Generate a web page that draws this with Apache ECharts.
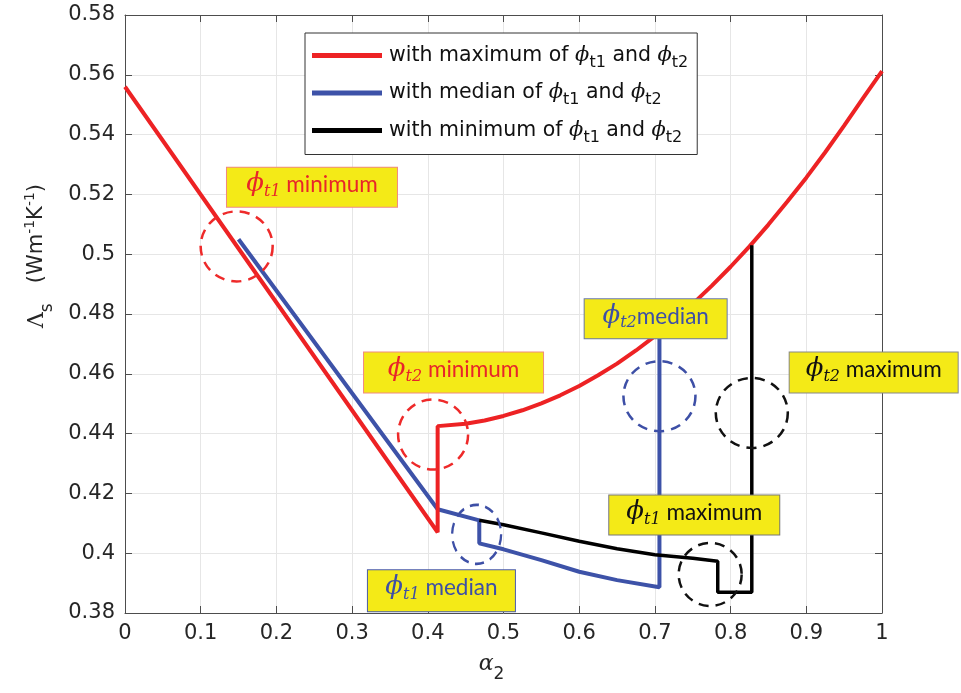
<!DOCTYPE html>
<html>
<head>
<meta charset="utf-8">
<script src="https://cdn.jsdelivr.net/npm/echarts@6/dist/echarts.min.js"></script>
<style>html,body{margin:0;padding:0;background:#fff;}#c{width:961px;height:693px;}</style>
</head>
<body>
<div id="c"></div>
<script>
// ---- data ----
const seriesNames = ['with maximum of ϕt1 and ϕt2', 'with median of ϕt1 and ϕt2', 'with minimum of ϕt1 and ϕt2'];
const redX = [0, 0.413, 0.413, 0.45, 0.475, 0.5, 0.525, 0.55, 0.575, 0.6, 0.625, 0.65, 0.675, 0.7, 0.725, 0.75, 0.775, 0.8, 0.825, 0.85, 0.875, 0.9, 0.925, 0.95, 0.975, 1.0];
const redY = [0.556, 0.407, 0.4425, 0.4433, 0.4444, 0.4459, 0.4478, 0.4501, 0.4528, 0.4559, 0.4595, 0.4634, 0.4678, 0.4726, 0.4777, 0.4834, 0.4894, 0.4958, 0.5026, 0.5099, 0.5176, 0.5256, 0.5341, 0.5430, 0.5522, 0.5612];
const blueX = [0.15, 0.413, 0.468, 0.468, 0.5, 0.55, 0.6, 0.65, 0.706, 0.706];
const blueY = [0.505, 0.4147, 0.411, 0.4033, 0.4013, 0.3977, 0.3938, 0.3910, 0.3886, 0.4735];
const blackX = [0.468, 0.5, 0.55, 0.6, 0.65, 0.7, 0.75, 0.783, 0.783, 0.828, 0.828];
const blackY = [0.411, 0.4095, 0.4068, 0.4040, 0.4015, 0.3995, 0.3983, 0.3973, 0.3869, 0.3869, 0.503];
const xTicks = [0, 0.1, 0.2, 0.3, 0.4, 0.5, 0.6, 0.7, 0.8, 0.9, 1];
const yTicks = [0.38, 0.4, 0.42, 0.44, 0.46, 0.48, 0.5, 0.52, 0.54, 0.56, 0.58];
// dashed circles: centre x, centre y, colour
const circleX = [0.1475, 0.407, 0.4645, 0.706, 0.828, 0.773];
const circleY = [0.5026, 0.4397, 0.4063, 0.4525, 0.4469, 0.3929];
const circleColor = ['#ee2a2a', '#ee2a2a', '#3d4fa6', '#3d4fa6', '#111', '#111'];
// annotation labels
const noteX = [0.247, 0.434, 0.418, 0.701, 0.752, 0.989];
const noteY = [0.5224, 0.4604, 0.3874, 0.4784, 0.4128, 0.4604];
const noteSub = ['t1', 't2', 't1', 't2', 't1', 't2'];
const noteWord = [' minimum', ' minimum', ' median', 'median', ' maximum', ' maximum'];
const noteColor = ['#e8252a', '#e8252a', '#3d4fa6', '#3d4fa6', '#111', '#111'];
const noteBorder = ['#f08a80', '#f08a80', '#4a5ba8', '#6a78a8', '#777', '#888'];

const RED = '#ed2224', BLUE = '#3d52a8', BLACK = '#000';
const zip = (a, b) => a.map((v, i) => [v, b[i]]);

const circleSize = [[72, 70], [70, 70], [49, 59], [72, 70], [72, 70], [63, 63]];
const noteSize = [[170, 39], [179, 40], [147, 41], [142, 39], [170, 39], [168, 40]];

function noteRich(color) {
  return {
    p: { fontFamily: 'DejaVu Serif', fontStyle: 'italic', fontSize: 26, color: color, lineHeight: 34, verticalAlign: 'middle' },
    s: { fontFamily: 'DejaVu Serif', fontStyle: 'italic', fontSize: 16, color: color, lineHeight: 34, verticalAlign: 'bottom', padding: [0, 0, 2, 0] },
    w: { fontFamily: 'Lato', fontSize: 22.5, color: color, lineHeight: 34, verticalAlign: 'middle' }
  };
}

const circleData = circleX.map((x, i) => ({
  value: [x, circleY[i]],
  symbolSize: circleSize[i],
  itemStyle: { color: 'rgba(0,0,0,0)', borderColor: circleColor[i], borderWidth: 2.5, borderType: [10, 7], opacity: 1 }
}));

const noteData = noteX.map((x, i) => ({
  value: [x, noteY[i]],
  label: {
    show: true,
    position: 'inside',
    formatter: '{p|ϕ}{s|' + noteSub[i] + '}{w|' + noteWord[i] + '}',
    backgroundColor: '#f4ea17',
    borderColor: noteBorder[i],
    borderWidth: 1,
    width: noteSize[i][0],
    height: noteSize[i][1],
    lineHeight: noteSize[i][1],
    align: 'center',
    verticalAlign: 'middle',
    padding: 0,
    rich: noteRich(noteColor[i])
  }
}));

const legendRich = {
  a: { fontFamily: 'DejaVu Sans', fontSize: 20.5, color: '#111', lineHeight: 26, verticalAlign: 'middle' },
  p: { fontFamily: 'DejaVu Serif', fontStyle: 'italic', fontSize: 21, color: '#111', lineHeight: 26, verticalAlign: 'middle' },
  s: { fontFamily: 'DejaVu Sans', fontSize: 16, color: '#111', lineHeight: 26, verticalAlign: 'bottom', padding: [0, 0, -2, 0] }
};

const chart = echarts.init(document.getElementById('c'), null, { renderer: 'canvas' });
const axisLineStyle = { color: '#4d4d4d', width: 1 };
chart.setOption({
  animation: false,
  backgroundColor: '#fff',
  grid: { left: 125, right: 79, top: 15, bottom: 80, containLabel: false },
  legend: {
    data: seriesNames,
    orient: 'vertical',
    left: 305, top: 33,
    padding: [12, 9, 9, 7],
    itemGap: 12,
    itemWidth: 70, itemHeight: 5,
    icon: 'rect',
    backgroundColor: '#fff',
    borderColor: '#333', borderWidth: 1,
    selectedMode: false,
    formatter: function (name) {
      const w = name.split(' of ')[0];
      return '{a|' + w + ' of }{p|ϕ}{s|t1}{a| and }{p|ϕ}{s|t2}';
    },
    textStyle: { rich: legendRich, padding: [0, 0, 0, 2] }
  },
  xAxis: [{
    type: 'value', min: 0, max: 1, interval: 0.1,
    position: 'bottom',
    axisLine: { show: true, onZero: false, lineStyle: axisLineStyle },
    axisTick: { show: true, inside: true, length: 7, lineStyle: axisLineStyle },
    axisLabel: { fontFamily: 'DejaVu Sans', fontSize: 21, color: '#262626', margin: 10,
      formatter: v => String(+v.toFixed(2)) },
    splitLine: { show: true, lineStyle: { color: '#e6e6e6', width: 1 } },
    name: '{a|α}{s|2}',
    nameLocation: 'middle', nameGap: 36,
    nameTextStyle: {
      padding: [0, 24, 0, 0],
      rich: {
        a: { fontFamily: 'DejaVu Serif', fontStyle: 'italic', fontSize: 22, color: '#262626', lineHeight: 30, verticalAlign: 'middle' },
        s: { fontFamily: 'DejaVu Sans', fontSize: 17, color: '#262626', lineHeight: 30, verticalAlign: 'bottom', padding: [0, 0, -4, 0] }
      }
    }
  }, {
    type: 'value', min: 0, max: 1, interval: 0.1,
    position: 'top',
    axisLine: { show: true, onZero: false, lineStyle: axisLineStyle },
    axisTick: { show: true, inside: true, length: 7, lineStyle: axisLineStyle },
    axisLabel: { show: false },
    splitLine: { show: false }
  }],
  yAxis: [{
    type: 'value', min: 0.38, max: 0.58, interval: 0.02,
    position: 'left',
    axisLine: { show: true, onZero: false, lineStyle: axisLineStyle },
    axisTick: { show: true, inside: true, length: 7, lineStyle: axisLineStyle },
    axisLabel: { fontFamily: 'DejaVu Sans', fontSize: 21, color: '#262626', margin: 10,
      formatter: v => String(+v.toFixed(2)) },
    splitLine: { show: true, lineStyle: { color: '#e6e6e6', width: 1 } },
    name: '{L|Λ}{s|s}{u|   (Wm}{sup|-1}{u|K}{sup|-1}{u|)}',
    nameLocation: 'middle', nameGap: 72, nameRotate: 90,
    nameTextStyle: {
      padding: [0, 0, 0, 116],
      rich: {
        L: { fontFamily: 'DejaVu Serif', fontSize: 22, color: '#262626', lineHeight: 32, verticalAlign: 'middle' },
        s: { fontFamily: 'DejaVu Sans', fontSize: 17, color: '#262626', lineHeight: 32, verticalAlign: 'bottom', padding: [0, 0, -3, 0] },
        u: { fontFamily: 'DejaVu Sans', fontSize: 21, color: '#262626', lineHeight: 32, verticalAlign: 'middle' },
        sup: { fontFamily: 'DejaVu Sans', fontSize: 14, color: '#262626', lineHeight: 32, verticalAlign: 'top', padding: [2, 0, 0, 0] }
      }
    }
  }, {
    type: 'value', min: 0.38, max: 0.58, interval: 0.02,
    position: 'right',
    axisLine: { show: true, onZero: false, lineStyle: axisLineStyle },
    axisTick: { show: true, inside: true, length: 7, lineStyle: axisLineStyle },
    axisLabel: { show: false },
    splitLine: { show: false }
  }],
  series: [
    { name: seriesNames[0], type: 'line', data: zip(redX, redY), showSymbol: false, symbol: 'none',
      lineStyle: { color: RED, width: 4 }, itemStyle: { color: RED }, z: 4, clip: true },
    { name: seriesNames[1], type: 'line', data: zip(blueX, blueY), showSymbol: false, symbol: 'none',
      lineStyle: { color: BLUE, width: 4 }, itemStyle: { color: BLUE }, z: 3 },
    { name: seriesNames[2], type: 'line', data: zip(blackX, blackY), showSymbol: false, symbol: 'none',
      lineStyle: { color: BLACK, width: 3.5 }, itemStyle: { color: BLACK }, z: 5 },
    { name: 'circles', type: 'scatter', data: circleData, symbol: 'circle', z: 6, silent: true,
      itemStyle: { opacity: 1 } },
    { name: 'notes', type: 'scatter', data: noteData, symbolSize: 0, z: 7, silent: true,
      itemStyle: { opacity: 1 }, labelLayout: { hideOverlap: false } }
  ]
});
</script>
</body>
</html>
